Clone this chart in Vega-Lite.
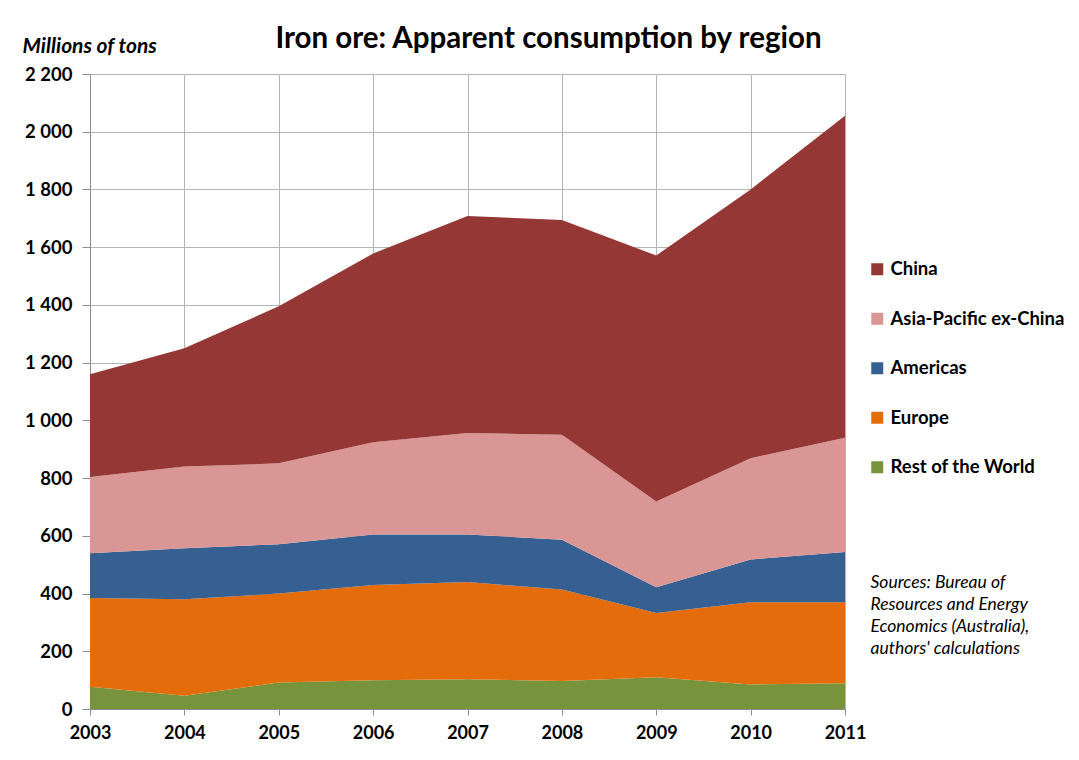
{
  "$schema": "https://vega.github.io/schema/vega-lite/v6.json",
  "width": 755,
  "height": 635,
  "autosize": {"type": "none"},
  "padding": {"left": 90, "top": 74, "right": 234, "bottom": 51},
  "background": "white",
  "title": {
    "text": "Iron ore: Apparent consumption by region",
    "frame": "group",
    "anchor": "middle",
    "dx": 81,
    "offset": -19,
    "font": "Lato",
    "fontSize": 29.5,
    "fontWeight": "bold",
    "color": "#000000"
  },
  "data": {
    "values": [
      {"year": 2003, "region": "Rest of the World", "rank": 1, "value": 77},
      {"year": 2003, "region": "Europe", "rank": 2, "value": 308},
      {"year": 2003, "region": "Americas", "rank": 3, "value": 155},
      {"year": 2003, "region": "Asia-Pacific ex-China", "rank": 4, "value": 264},
      {"year": 2003, "region": "China", "rank": 5, "value": 356},
      {"year": 2004, "region": "Rest of the World", "rank": 1, "value": 46},
      {"year": 2004, "region": "Europe", "rank": 2, "value": 334},
      {"year": 2004, "region": "Americas", "rank": 3, "value": 177},
      {"year": 2004, "region": "Asia-Pacific ex-China", "rank": 4, "value": 283},
      {"year": 2004, "region": "China", "rank": 5, "value": 410},
      {"year": 2005, "region": "Rest of the World", "rank": 1, "value": 92},
      {"year": 2005, "region": "Europe", "rank": 2, "value": 308},
      {"year": 2005, "region": "Americas", "rank": 3, "value": 171},
      {"year": 2005, "region": "Asia-Pacific ex-China", "rank": 4, "value": 280},
      {"year": 2005, "region": "China", "rank": 5, "value": 544},
      {"year": 2006, "region": "Rest of the World", "rank": 1, "value": 100},
      {"year": 2006, "region": "Europe", "rank": 2, "value": 330},
      {"year": 2006, "region": "Americas", "rank": 3, "value": 175},
      {"year": 2006, "region": "Asia-Pacific ex-China", "rank": 4, "value": 319},
      {"year": 2006, "region": "China", "rank": 5, "value": 654},
      {"year": 2007, "region": "Rest of the World", "rank": 1, "value": 103},
      {"year": 2007, "region": "Europe", "rank": 2, "value": 337},
      {"year": 2007, "region": "Americas", "rank": 3, "value": 165},
      {"year": 2007, "region": "Asia-Pacific ex-China", "rank": 4, "value": 351},
      {"year": 2007, "region": "China", "rank": 5, "value": 752},
      {"year": 2008, "region": "Rest of the World", "rank": 1, "value": 97},
      {"year": 2008, "region": "Europe", "rank": 2, "value": 317},
      {"year": 2008, "region": "Americas", "rank": 3, "value": 172},
      {"year": 2008, "region": "Asia-Pacific ex-China", "rank": 4, "value": 364},
      {"year": 2008, "region": "China", "rank": 5, "value": 744},
      {"year": 2009, "region": "Rest of the World", "rank": 1, "value": 110},
      {"year": 2009, "region": "Europe", "rank": 2, "value": 223},
      {"year": 2009, "region": "Americas", "rank": 3, "value": 89},
      {"year": 2009, "region": "Asia-Pacific ex-China", "rank": 4, "value": 297},
      {"year": 2009, "region": "China", "rank": 5, "value": 852},
      {"year": 2010, "region": "Rest of the World", "rank": 1, "value": 85},
      {"year": 2010, "region": "Europe", "rank": 2, "value": 285},
      {"year": 2010, "region": "Americas", "rank": 3, "value": 148},
      {"year": 2010, "region": "Asia-Pacific ex-China", "rank": 4, "value": 351},
      {"year": 2010, "region": "China", "rank": 5, "value": 931},
      {"year": 2011, "region": "Rest of the World", "rank": 1, "value": 89},
      {"year": 2011, "region": "Europe", "rank": 2, "value": 281},
      {"year": 2011, "region": "Americas", "rank": 3, "value": 174},
      {"year": 2011, "region": "Asia-Pacific ex-China", "rank": 4, "value": 396},
      {"year": 2011, "region": "China", "rank": 5, "value": 1115}
    ]
  },
  "layer": [
    {
      "mark": {"type": "area", "opacity": 1},
      "encoding": {
        "x": {
          "field": "year",
          "type": "quantitative",
          "scale": {"domain": [2003, 2011], "nice": false, "zero": false},
          "axis": {
            "values": [2003, 2004, 2005, 2006, 2007, 2008, 2009, 2010, 2011],
            "format": "d",
            "title": null,
            "grid": true,
            "gridColor": "#b4b4b4",
            "gridWidth": 1,
            "domainColor": "#8c8c8c",
            "tickColor": "#8c8c8c",
            "tickSize": 6,
            "labelPadding": 9,
            "labelFont": "Lato",
            "labelFontSize": 18,
            "labelFontWeight": "bold",
            "labelColor": "#000000",
            "labelFlush": false,
            "labelOverlap": false
          }
        },
        "y": {
          "field": "value",
          "type": "quantitative",
          "stack": "zero",
          "scale": {"domain": [0, 2200], "nice": false},
          "axis": {
            "values": [0, 200, 400, 600, 800, 1000, 1200, 1400, 1600, 1800, 2000, 2200],
            "labelExpr": "replace(format(datum.value, ','), ',', ' ')",
            "grid": true,
            "gridColor": "#b4b4b4",
            "gridWidth": 1,
            "domainColor": "#8c8c8c",
            "tickColor": "#8c8c8c",
            "tickSize": 8,
            "labelPadding": 10,
            "labelFont": "Lato",
            "labelFontSize": 18.5,
            "labelFontWeight": "bold",
            "labelColor": "#000000",
            "labelOverlap": false,
            "title": "Millions of tons",
            "titleAngle": 0,
            "titleX": -68,
            "titleY": -28,
            "titleAlign": "left",
            "titleBaseline": "middle",
            "titleFont": "Lato",
            "titleFontSize": 21,
            "titleFontStyle": "italic",
            "titleFontWeight": "bold",
            "titleColor": "#000000"
          }
        },
        "color": {
          "field": "region",
          "type": "nominal",
          "scale": {
            "domain": ["China", "Asia-Pacific ex-China", "Americas", "Europe", "Rest of the World"],
            "range": ["#953735", "#D99694", "#376092", "#E46C0A", "#77933C"]
          },
          "legend": {
            "title": null,
            "orient": "none",
            "legendX": 778,
            "legendY": 186,
            "padding": 0,
            "symbolType": "square",
            "symbolSize": 144,
            "symbolStrokeWidth": 0,
            "symbolOpacity": 1,
            "labelFont": "Lato",
            "labelFontSize": 18.5,
            "labelFontWeight": "bold",
            "labelColor": "#000000",
            "labelOffset": 4,
            "labelLimit": 400,
            "rowPadding": 30.5
          }
        },
        "order": {"field": "rank", "type": "quantitative", "sort": "ascending"}
      }
    },
    {
      "mark": {"type": "area", "opacity": 0},
      "encoding": {
        "x": {"field": "year", "type": "quantitative"},
        "y": {
          "field": "value",
          "type": "quantitative",
          "stack": null,
          "scale": {"domain": [0, 2200], "nice": false},
          "axis": {
            "orient": "right",
            "labels": false,
            "ticks": false,
            "domain": false,
            "grid": false,
            "title": ["Sources: Bureau of", "Resources and Energy", "Economics (Australia),", "authors' calculations"],
            "titleAngle": 0,
            "titleX": 25,
            "titleY": 499,
            "titleAlign": "left",
            "titleBaseline": "top",
            "titleFont": "Lato",
            "titleFontSize": 17.5,
            "titleFontStyle": "italic",
            "titleFontWeight": "normal",
            "titleLineHeight": 22,
            "titleLimit": 400,
            "titleColor": "#000000"
          }
        }
      }
    }
  ],
  "resolve": {"axis": {"y": "independent"}},
  "config": {
    "font": "Lato",
    "view": {"stroke": null}
  }
}
